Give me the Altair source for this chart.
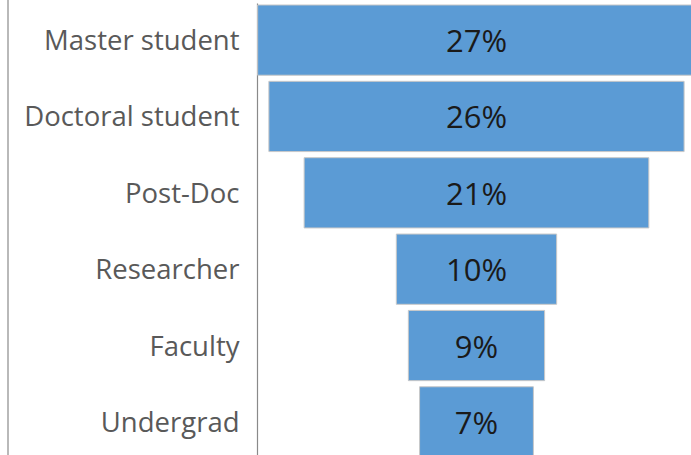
import altair as alt
import pandas as pd

categories = ["Master student", "Doctoral student", "Post-Doc", "Researcher", "Faculty", "Undergrad"]
shares = [27.3, 25.9, 21.5, 10.0, 8.5, 7.1]
labels = ["27%", "26%", "21%", "10%", "9%", "7%"]

df = pd.DataFrame({"role": categories, "share": shares, "label": labels})

base = alt.Chart(df).transform_calculate(
    lo="-datum.share / 2", hi="datum.share / 2", mid="0"
)

y_enc = alt.Y(
    "role:N",
    sort=categories,
    title=None,
    scale=alt.Scale(range=[0, 456], paddingInner=0.08, paddingOuter=0.026),
    axis=alt.Axis(
        ticks=False,
        tickSize=0,
        grid=False,
        domainColor="#8a8a8a",
        domainWidth=1.2,
        labelColor="#595959",
        labelFont="Open Sans",
        labelFontSize=27.5,
        labelPadding=18,
        labelAlign="right",
        labelLimit=400,
        labelOffset=2,
    ),
)

x_scale = alt.Scale(domain=[-13.69, 13.38], nice=False, zero=False)

bars = base.mark_bar(
    color="#5B9BD5", stroke="#c8c8c8", strokeWidth=1, clip=True
).encode(
    x=alt.X("lo:Q", scale=x_scale, axis=None),
    x2="hi:Q",
    y=y_enc,
)

text = base.mark_text(
    font="Open Sans", fontSize=31, color="#1a1a1a", baseline="middle", dy=3
).encode(
    x=alt.X("mid:Q", scale=x_scale, axis=None),
    y=alt.Y("role:N", sort=categories),
    text="label:N",
)

border = alt.Chart(alt.Data(values=[{}])).mark_rule(
    color="#8a8a8a", strokeWidth=1.2
).encode(
    x=alt.value(-249), y=alt.value(-3), y2=alt.value(452)
)

chart = alt.layer(bars, text, border).properties(
    width=434,
    height=452,
    autosize=alt.AutoSizeParams(type="none"),
    padding={"left": 257, "top": 3, "right": 0, "bottom": 0},
    background="white",
).configure_view(stroke=None)

chart.save("out.html", embed_options={"renderer": "svg", "actions": False})
